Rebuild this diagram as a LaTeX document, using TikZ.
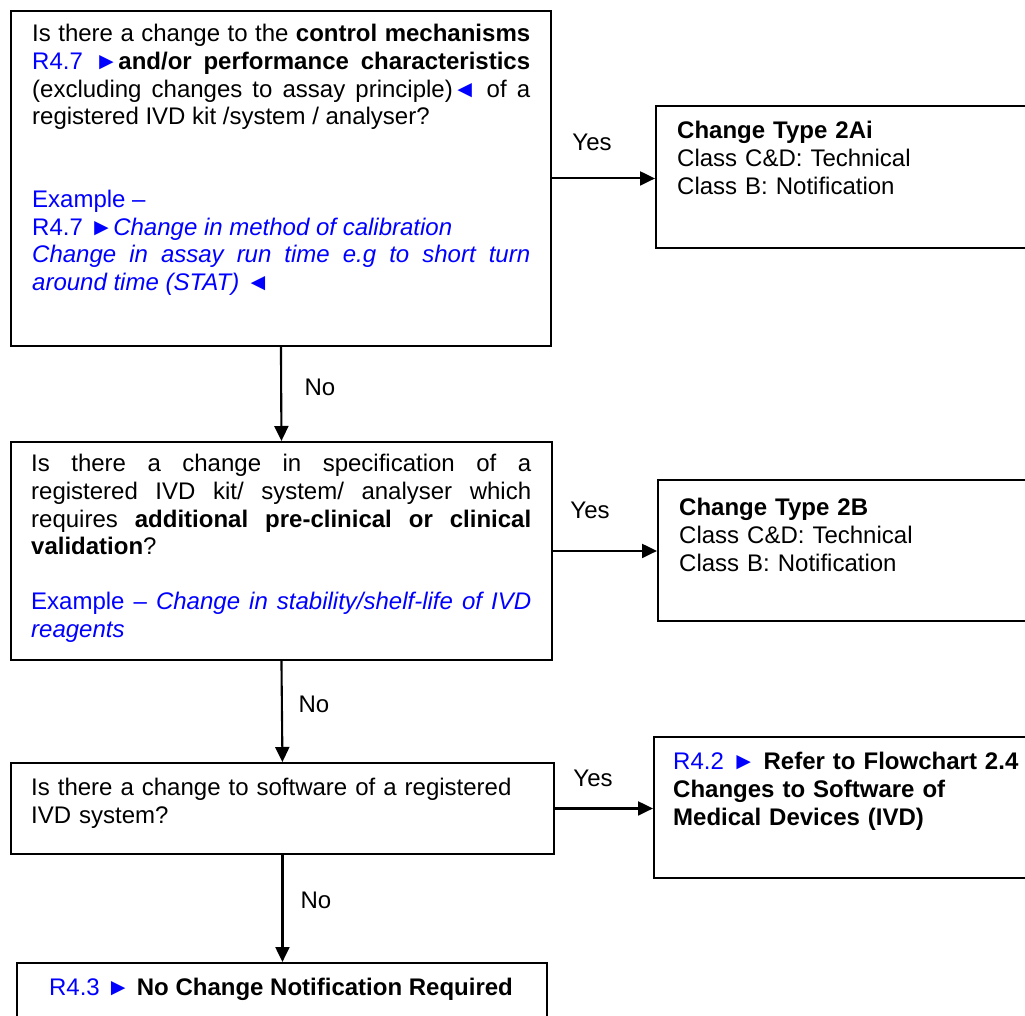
\documentclass[tikz,border=0pt]{standalone}
\usepackage{fontspec}
\setmainfont{Liberation Sans}
\usetikzlibrary{arrows.meta,calc}
\definecolor{refblue}{RGB}{0,0,255}
\tikzset{
  box/.style={draw=black, line width=1.9pt, inner sep=0pt, anchor=north west},
  txt/.style={anchor=north west, inner sep=0pt, font=\fontsize{24}{27.6}\selectfont},
  lbl/.style={inner sep=0pt, font=\fontsize{24}{27.6}\selectfont},
  arr/.style={line width=2.1pt, -{Triangle[length=15pt,width=14pt]}},
}
\newcommand{\bl}[1]{\textcolor{refblue}{#1}}
\begin{document}
\begin{tikzpicture}[x=1pt,y=-1pt]
\clip (0,0) rectangle (1025,1016);
\fill[white] (0,0) rectangle (1025,1016);

% left column boxes
\node[box, minimum width=540pt, minimum height=335pt] (q1) at (10,10) {};
\node[box, minimum width=541pt, minimum height=218pt] (q2) at (10,441) {};
\node[box, minimum width=543pt, minimum height=91pt] (q3) at (10,762) {};
\node[box, minimum width=530pt, minimum height=80pt] (q4) at (16,962) {};

% right column boxes (cut off at the right edge)
\node[box, minimum width=400pt, minimum height=142pt] (r1) at (655,105) {};
\node[box, minimum width=400pt, minimum height=141pt] (r2) at (657,479) {};
\node[box, minimum width=400pt, minimum height=141pt] (r3) at (653,736) {};

% texts
\node[txt, text width=498pt, align=justify] (t1) at (32,22.3) {\strut Is there a change to the \textbf{control mechanisms}\linebreak \bl{R4.7 ►}\textbf{and/or performance characteristics}\linebreak (excluding changes to assay principle)\bl{◄} of a\linebreak registered IVD kit /system / analyser?\\[55.2pt]
\color{refblue}Example –\\
R4.7 ►\textit{Change in method of calibration}\\
\textit{Change in assay run time e.g to short turn\linebreak around time (STAT)} ◄};

\node[txt, text width=500pt, align=justify] (t2) at (31,452.3) {\strut Is there a change in specification of a\linebreak registered IVD kit/ system/ analyser which\linebreak requires \textbf{additional pre-clinical or clinical}\linebreak \textbf{validation}?\\[27.6pt]
\color{refblue}Example – \textit{Change in stability/shelf-life of IVD}\linebreak \textit{reagents}};

\node[txt, text width=500pt, align=left] (t3) at (31,776.3) {\strut Is there a change to software of a registered\\IVD system?};

\node[txt, anchor=north] (t4) at (281,976.3) {\strut\bl{R4.3 ►} \textbf{No Change Notification Required}};

\node[txt, text width=340pt, align=left] (s1) at (677,119.3) {\strut\textbf{Change Type 2Ai}\\Class C\&D: Technical\\Class B: Notification};
\node[txt, text width=340pt, align=left] (s2) at (679,496.3) {\strut\textbf{Change Type 2B}\\Class C\&D: Technical\\Class B: Notification};
\node[txt, text width=350pt, align=left] (s3) at (673,750.3) {\strut\bl{R4.2 ►} \textbf{Refer to Flowchart 2.4}\\\textbf{Changes to Software of}\\\textbf{Medical Devices (IVD)}};

% connectors
\draw[arr] (q1.south) -- (q2.north);
\draw[arr] (q2.south) -- (q3.north);
\draw[arr] (q3.south) -- (q3.south |- q4.north);
\draw[arr] (q1.east) -- (q1.east -| r1.west);
\draw[arr] (q2.east) -- (q2.east -| r2.west);
\draw[arr] (q3.east) -- (q3.east -| r3.west);

% labels
\node[lbl] (y1) at (592,142) {Yes};
\node[lbl] (y2) at (590,510) {Yes};
\node[lbl] (y3) at (593,778) {Yes};
\node[lbl] (n1) at (320,387) {No};
\node[lbl] (n2) at (314,704) {No};
\node[lbl] (n3) at (316,900) {No};
\end{tikzpicture}
\end{document}
